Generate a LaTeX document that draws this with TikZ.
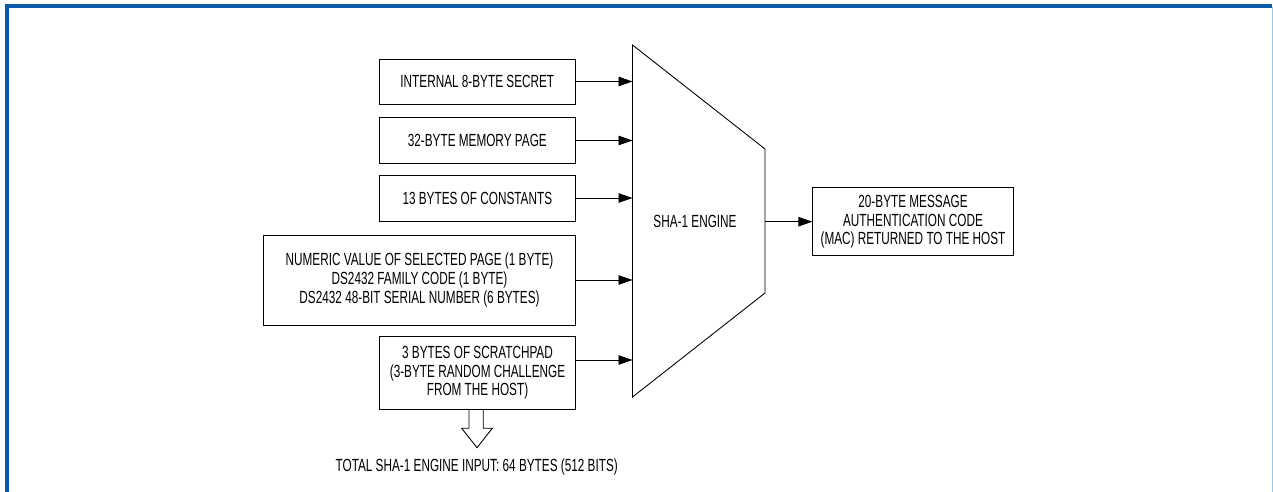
\documentclass[tikz,border=0pt]{standalone}
\usepackage{fontspec}
\setmainfont{Liberation Sans}[FakeStretch=0.67]
\usepackage{xcolor}
\usetikzlibrary{arrows.meta}
\definecolor{frameblue}{HTML}{0B5AAA}
\definecolor{framelight}{HTML}{9CC8E8}

\begin{document}
\begin{tikzpicture}[x=0.02cm,y=-0.02cm,
  inbox/.style={draw,line width=0.5pt,align=center,inner sep=0pt,
    font=\fontsize{10}{10.6}\selectfont},
  feed/.style={line width=0.5pt,-{Triangle[length=0.28cm,width=0.19cm]}}]
  \useasboundingbox (0,0) rectangle (1273,492);
  \draw[frameblue,line width=2.4pt] (7.2,492) -- (7.2,6.3) -- (1272,6.3);
  \draw[framelight,line width=0.6pt] (1272.3,7) -- (1272.3,492);
  % input blocks
  \node[inbox,minimum width=3.91cm,minimum height=0.9cm] (secret) at (477.3,81.5) {INTERNAL 8-BYTE SECRET};
  \node[inbox,minimum width=3.91cm,minimum height=0.91cm] (page) at (477.3,140.5) {32-BYTE MEMORY PAGE};
  \node[inbox,minimum width=3.91cm,minimum height=0.92cm] (const) at (477.3,198) {13 BYTES OF CONSTANTS};
  \node[inbox,minimum width=6.25cm,minimum height=1.8cm] (serial) at (419.5,280)
    {NUMERIC VALUE OF SELECTED PAGE (1 BYTE)\\DS2432 FAMILY CODE (1 BYTE)\\DS2432 48-BIT SERIAL NUMBER (6 BYTES)};
  \node[inbox,minimum width=3.93cm,minimum height=1.45cm] (scratch) at (477.5,373)
    {3 BYTES OF SCRATCHPAD\\(3-BYTE RANDOM CHALLENGE\\FROM THE HOST)};
  \coordinate (scrout) at (575.7,360);
  % engine
  \coordinate (engtl) at (632.5,45);
  \coordinate (engbl) at (632.5,397);
  \coordinate (engtr) at (765,149);
  \coordinate (engbr) at (765,293);
  \draw[line width=0.5pt] (engtl) -- (engtr) -- (engbr) -- (engbl) -- cycle;
  \node[font=\fontsize{10}{10.6}\selectfont] (engine) at (695,221.7) {SHA-1 ENGINE};
  \node[inbox,minimum width=4.01cm,minimum height=1.37cm] (mac) at (913,221.7)
    {20-BYTE MESSAGE\\AUTHENTICATION CODE\\(MAC) RETURNED TO THE HOST};
  \draw[feed] (secret.east) -- (secret.east -| engtl);
  \draw[feed] (page.east) -- (page.east -| engtl);
  \draw[feed] (const.east) -- (const.east -| engtl);
  \draw[feed] (serial.east) -- (serial.east -| engtl);
  \draw[feed] (scrout) -- (scrout -| engtl);
  \draw[feed] (engtr |- mac.west) -- (mac.west);
  % total
  \draw[line width=0.5pt] (469,409.3) -- (469,428.3) -- (461.7,428.3) -- (477,447.7)
    -- (492.3,428.3) -- (483.3,428.3) -- (483.3,409.3);
  \node[font=\fontsize{10}{10.6}\selectfont] (total) at (476.7,466.7) {TOTAL SHA-1 ENGINE INPUT: 64 BYTES (512 BITS)};
\end{tikzpicture}
\end{document}
